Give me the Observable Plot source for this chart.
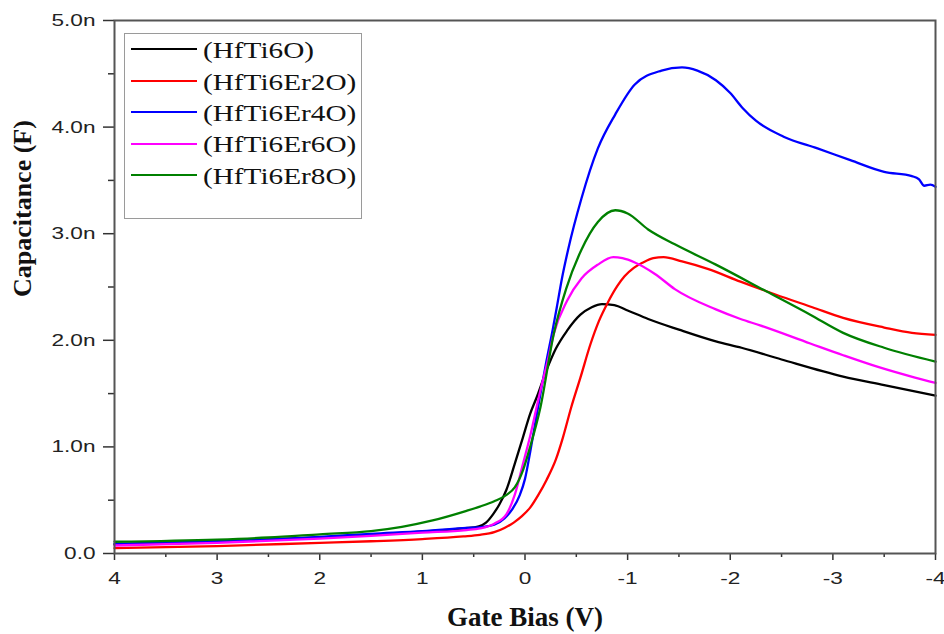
<!DOCTYPE html>
<html>
<head>
<meta charset="utf-8">
<script src="https://cdn.jsdelivr.net/npm/d3@7"></script>
<script src="https://cdn.jsdelivr.net/npm/@observablehq/plot@0.6"></script>
<style>
  html, body { margin: 0; padding: 0; background: #fff; }
  #wrap { position: relative; width: 944px; height: 634px; }
  #legend { position: absolute; left: 124px; top: 33px; width: 238px; height: 186px;
            border: 1.5px solid #9a9a9a; box-sizing: border-box; background: #fff; }
  .sw { position: absolute; left: 6px; width: 66px; height: 2px; }
  .lt { position: absolute; left: 78px; font-family: "Liberation Serif", serif; font-size: 22.5px;
        line-height: 1; white-space: nowrap; color: #111; transform: scaleX(1.3); transform-origin: left center; }
</style>
</head>
<body>
<div id="wrap"></div>
<script>
// Series names and colours
const seriesNames = ["(HfTi6O)", "(HfTi6Er2O)", "(HfTi6Er4O)", "(HfTi6Er6O)", "(HfTi6Er8O)"];
const seriesColors = ["#000000", "#ff0000", "#0000ff", "#ff00ff", "#008000"];

// Gate bias (V) and capacitance (nF) per series
const vHfTi6O = [4, 3, 2, 1.5, 1, 0.6, 0.45, 0.38, 0.31, 0.25, 0.18, 0.1, 0.02, -0.05, -0.12, -0.21, -0.3, -0.41, -0.54, -0.65, -0.75, -0.87, -1.0, -1.2, -1.5, -1.86, -2.11, -2.5, -3.1, -3.5, -4];
const cHfTi6O = [0.085, 0.11, 0.15, 0.175, 0.205, 0.235, 0.255, 0.29, 0.37, 0.46, 0.6, 0.84, 1.09, 1.31, 1.48, 1.72, 1.92, 2.09, 2.24, 2.31, 2.34, 2.33, 2.28, 2.2, 2.1, 1.99, 1.93, 1.82, 1.66, 1.58, 1.48];

const vHfTi6Er2O = [4, 3, 2, 1.5, 1, 0.6, 0.44, 0.3, 0.2, 0.11, 0.03, -0.05, -0.13, -0.21, -0.3, -0.37, -0.45, -0.54, -0.64, -0.72, -0.81, -0.9, -0.97, -1.06, -1.15, -1.25, -1.35, -1.53, -1.78, -2.1, -2.44, -2.8, -3.1, -3.5, -3.77, -4];
const cHfTi6Er2O = [0.05, 0.07, 0.1, 0.115, 0.135, 0.16, 0.175, 0.2, 0.24, 0.29, 0.35, 0.43, 0.55, 0.69, 0.88, 1.09, 1.37, 1.65, 1.97, 2.18, 2.36, 2.51, 2.6, 2.68, 2.73, 2.77, 2.78, 2.74, 2.67, 2.55, 2.43, 2.31, 2.21, 2.12, 2.07, 2.05];

const vHfTi6Er4O = [4, 3, 2, 1.5, 1, 0.57, 0.41, 0.3, 0.2, 0.12, 0.05, 0.0, -0.05, -0.11, -0.16, -0.21, -0.27, -0.31, -0.36, -0.42, -0.55, -0.71, -0.88, -1.07, -1.33, -1.53, -1.68, -1.86, -2.0, -2.12, -2.25, -2.52, -2.85, -3.17, -3.5, -3.77, -3.84, -3.89, -3.95, -4];
const cHfTi6Er4O = [0.09, 0.115, 0.155, 0.185, 0.21, 0.24, 0.25, 0.27, 0.33, 0.42, 0.55, 0.7, 0.95, 1.28, 1.55, 1.81, 2.1, 2.31, 2.58, 2.85, 3.33, 3.8, 4.12, 4.4, 4.53, 4.56, 4.53, 4.44, 4.32, 4.18, 4.06, 3.91, 3.8, 3.69, 3.58, 3.54, 3.51, 3.45, 3.46, 3.44];

const vHfTi6Er6O = [4, 3, 2, 1.5, 1, 0.57, 0.44, 0.3, 0.18, 0.1, 0.02, -0.05, -0.15, -0.22, -0.28, -0.41, -0.55, -0.71, -0.86, -0.95, -1.07, -1.27, -1.46, -1.86, -2.1, -2.29, -2.78, -3.1, -3.44, -3.8, -4];
const cHfTi6Er6O = [0.075, 0.1, 0.14, 0.165, 0.195, 0.22, 0.235, 0.28, 0.37, 0.55, 0.84, 1.1, 1.53, 1.8, 2.06, 2.37, 2.58, 2.71, 2.78, 2.77, 2.73, 2.62, 2.48, 2.29, 2.2, 2.14, 1.97, 1.86, 1.75, 1.65, 1.6];

const vHfTi6Er8O = [4, 3, 2.5, 2, 1.5, 1.2, 0.9, 0.57, 0.44, 0.3, 0.18, 0.1, 0.02, -0.05, -0.15, -0.28, -0.4, -0.55, -0.71, -0.88, -1.0, -1.2, -1.46, -1.86, -2.35, -2.78, -3.1, -3.5, -4];
const cHfTi6Er8O = [0.11, 0.13, 0.15, 0.18, 0.21, 0.25, 0.31, 0.4, 0.44, 0.49, 0.55, 0.62, 0.78, 1.0, 1.37, 2.06, 2.48, 2.85, 3.11, 3.22, 3.19, 3.04, 2.9, 2.71, 2.46, 2.24, 2.07, 1.93, 1.8];

// Tick values
const xMajorTicks = [4, 3, 2, 1, 0, -1, -2, -3, -4];
const xMinorTicks = [3.5, 2.5, 1.5, 0.5, -0.5, -1.5, -2.5, -3.5];
const yMajorTicks = [0, 1, 2, 3, 4, 5];
const yMinorTicks = [0.5, 1.5, 2.5, 3.5, 4.5];
const yTickLabels = ["0.0", "1.0n", "2.0n", "3.0n", "4.0n", "5.0n"];

const seriesV = [vHfTi6O, vHfTi6Er2O, vHfTi6Er4O, vHfTi6Er6O, vHfTi6Er8O];
const seriesC = [cHfTi6O, cHfTi6Er2O, cHfTi6Er4O, cHfTi6Er6O, cHfTi6Er8O];
const rows = [];
seriesNames.forEach((s, i) => seriesV[i].forEach((v, j) => rows.push({s, v, c: seriesC[i][j]})));

const tickStyle = {stroke: "#333", strokeWidth: 1.5};

const chart = Plot.plot({
  width: 944,
  height: 634,
  marginLeft: 114,
  marginRight: 9,
  marginTop: 20,
  marginBottom: 81,
  style: {fontFamily: "'Liberation Sans', Arial, sans-serif", background: "#fff", color: "#222"},
  x: {domain: [4, -4]},
  y: {domain: [0, 5]},
  color: {domain: seriesNames, range: seriesColors},
  marks: [
    Plot.axisX({ticks: xMajorTicks, tickSize: 7, tickPadding: 11, fontSize: 17,
                tickFormat: d => String(d), label: null, ...tickStyle}),
    Plot.axisX({ticks: xMinorTicks, tickSize: 4, tickFormat: () => "", label: null, ...tickStyle}),
    Plot.axisY({ticks: yMajorTicks, tickSize: 11, tickPadding: 8, fontSize: 17,
                tickFormat: d => yTickLabels[yMajorTicks.indexOf(d)], label: null, ...tickStyle}),
    Plot.axisY({ticks: yMinorTicks, tickSize: 6, tickFormat: () => "", label: null, ...tickStyle}),
    Plot.line(rows, {x: "v", y: "c", z: "s", stroke: "s", strokeWidth: 2.3, curve: "monotone-x"}),
    Plot.frame({stroke: "#555", strokeWidth: 2}),
    Plot.text(["Gate Bias (V)"], {text: d => d, frameAnchor: "bottom", dy: 64, lineAnchor: "middle",
              fontSize: 27, fontWeight: "bold", fontFamily: "'Liberation Serif', serif", fill: "#111"}),
    Plot.text(["Capacitance (F)"], {text: d => d, frameAnchor: "left", rotate: -90, dx: -92, dy: 10,
              fontSize: 26, fontWeight: "bold", fontFamily: "'Liberation Serif', serif", fill: "#111"})
  ]
});

const wrap = document.getElementById("wrap");
wrap.appendChild(chart);

// widen the tick labels like the reference's stretched lettering
chart.querySelectorAll('g[aria-label$="tick label"] text').forEach(t => {
  if (!t.textContent) return;
  const L = t.getComputedTextLength();
  t.setAttribute("textLength", (L * 1.33).toFixed(1));
  t.setAttribute("lengthAdjust", "spacingAndGlyphs");
});

// legend
const legend = document.createElement("div");
legend.id = "legend";
const rowCenters = [15.3, 47, 78, 109.7, 141];
seriesNames.forEach((name, i) => {
  const sw = document.createElement("div");
  sw.className = "sw";
  sw.style.top = (rowCenters[i] - 1) + "px";
  sw.style.background = seriesColors[i];
  legend.appendChild(sw);
  const lt = document.createElement("span");
  lt.className = "lt";
  lt.style.top = (rowCenters[i] - 9.4) + "px";
  lt.textContent = name;
  legend.appendChild(lt);
});
wrap.appendChild(legend);
</script>
</body>
</html>
